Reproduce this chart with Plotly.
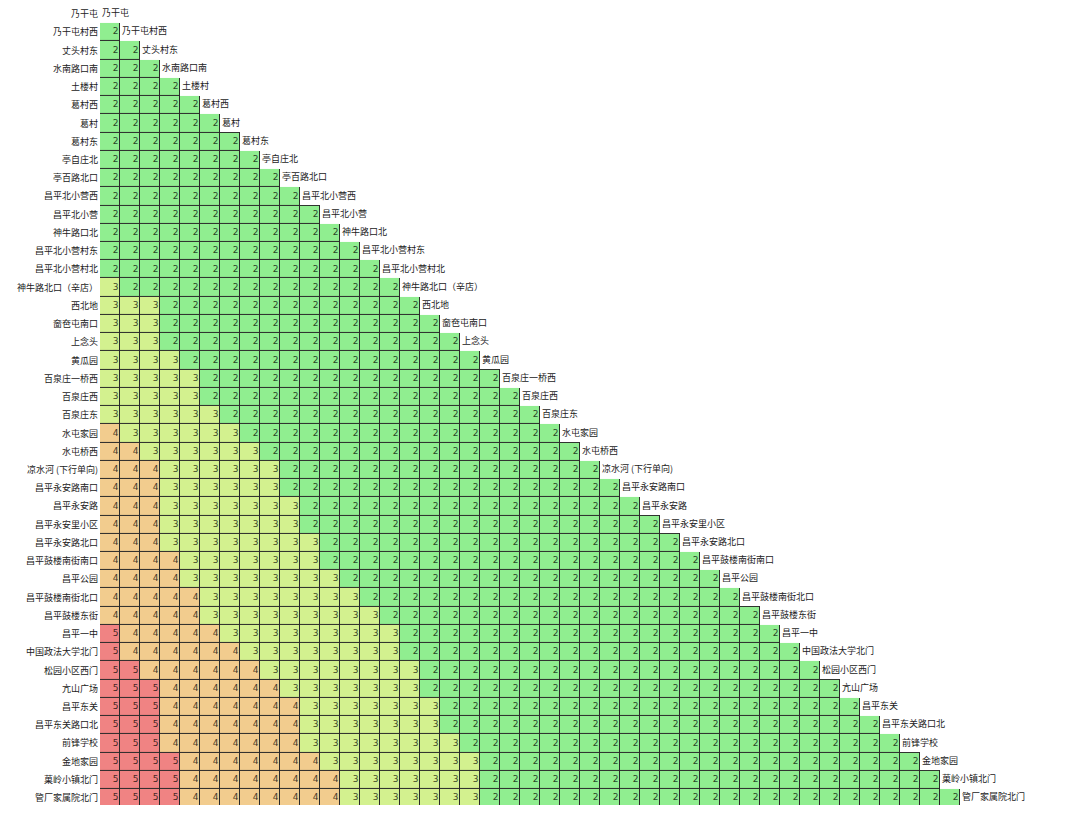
import plotly.graph_objects as go
import numpy as np

stops = [
    "乃干屯", "乃干屯村西", "丈头村东", "水南路口南", "土楼村", "葛村西", "葛村", "葛村东",
    "亭自庄北", "亭百路北口", "昌平北小营西", "昌平北小营", "神牛路口北", "昌平北小营村东",
    "昌平北小营村北", "神牛路北口（辛店）", "西北地", "奤夿屯南口", "上念头", "黄瓜园",
    "百泉庄一桥西", "百泉庄西", "百泉庄东", "水屯家园", "水屯桥西", "凉水河 (下行单向)",
    "昌平永安路南口", "昌平永安路", "昌平永安里小区", "昌平永安路北口", "昌平鼓楼南街南口",
    "昌平公园", "昌平鼓楼南街北口", "昌平鼓楼东街", "昌平一中", "中国政法大学北门",
    "松园小区西门", "亢山广场", "昌平东关", "昌平东关路口北", "前锋学校", "金地家园",
    "菓岭小镇北门", "管厂家属院北门",
]

# per row: number of leading cells with fare 5, then 4, then 3; remaining cells are 2
n_five = [0] * 34 + [1, 1, 2, 3, 3, 3, 3, 4, 4, 4]
n_four = [0] * 23 + [1, 2, 3, 3, 3, 3, 3, 4, 4, 5, 5, 5, 6, 6, 6, 7, 7, 7, 7, 8, 8]
n_three = [0] * 15 + [1, 3, 3, 3, 4, 5, 5, 6, 6, 6, 6, 6, 7, 7, 8, 7, 8, 8, 9, 9, 8, 8, 7, 7, 7, 8, 8, 7, 7]

fare_colors = {2: "#90ee90", 3: "#d3f18f", 4: "#f2cc8e", 5: "#f08383"}

N = len(stops)
z = np.full((N, N), np.nan)
base = np.full((N, N), np.nan)
tx, ty, tt = [], [], []
for i in range(N):
    for j in range(i):
        if j < n_five[i]:
            v = 5
        elif j < n_five[i] + n_four[i]:
            v = 4
        elif j < n_five[i] + n_four[i] + n_three[i]:
            v = 3
        else:
            v = 2
        z[i, j] = v
        base[i, j] = 1
        tx.append(j + 0.42)
        ty.append(i)
        tt.append(str(v))

cs = [
    [0.0, fare_colors[2]], [1 / 6, fare_colors[2]],
    [1 / 6, fare_colors[3]], [0.5, fare_colors[3]],
    [0.5, fare_colors[4]], [5 / 6, fare_colors[4]],
    [5 / 6, fare_colors[5]], [1.0, fare_colors[5]],
]

idx = list(range(N))
fig = go.Figure()
fig.add_trace(go.Heatmap(
    z=base, x=idx, y=idx, colorscale=[[0, "#2a2a2a"], [1, "#2a2a2a"]],
    showscale=False, hoverinfo="skip",
))
fig.add_trace(go.Heatmap(
    z=z, x=idx, y=idx, colorscale=cs, zmin=2, zmax=5, xgap=1, ygap=1,
    showscale=False,
))
fig.add_trace(go.Scatter(
    x=tx, y=ty, text=tt, mode="text", textposition="middle left",
    textfont=dict(size=9, color="rgba(0,0,0,0.75)", family="DejaVu Sans"),
    hoverinfo="skip", showlegend=False,
))
fig.add_trace(go.Scatter(
    x=[i - 0.4 for i in idx], y=idx, text=stops, mode="text", textposition="middle right",
    textfont=dict(size=9, color="#222", family="Noto Sans CJK SC"),
    hoverinfo="skip", showlegend=False,
))

fig.update_layout(
    width=1064, height=797,
    margin=dict(l=92, r=0, t=0, b=0),
    plot_bgcolor="white", paper_bgcolor="white",
    showlegend=False,
    font=dict(family="Noto Sans CJK SC", size=9, color="#222"),
    xaxis=dict(range=[-0.5, 48.1], visible=False, showgrid=False, zeroline=False),
    yaxis=dict(range=[43.384, -0.329], tickmode="array", tickvals=idx, ticktext=stops,
               showgrid=False, zeroline=False, ticks="", showline=False,
               ticklabeloverflow="allow", ticklabelstandoff=1,
               tickfont=dict(size=9, color="#222", family="Noto Sans CJK SC")),
)

fig.write_html("out.html")
